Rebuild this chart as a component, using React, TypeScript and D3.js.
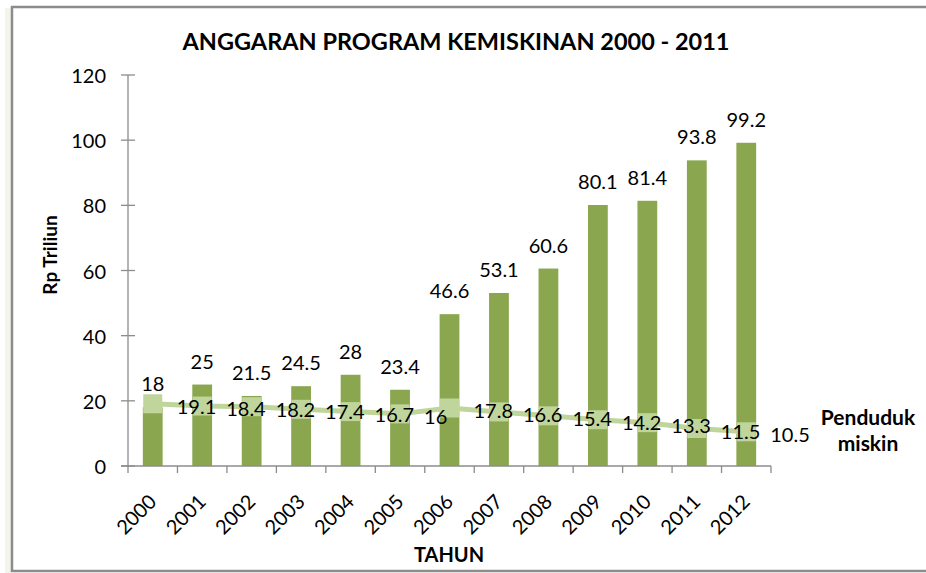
import React from "react";
import * as d3 from "d3";

const years = ["2000","2001","2002","2003","2004","2005","2006","2007","2008","2009","2010","2011","2012"];
const budget = [18, 25, 21.5, 24.5, 28, 23.4, 46.6, 53.1, 60.6, 80.1, 81.4, 93.8, 99.2];
const poor = [19.1, 18.4, 18.2, 17.4, 16.7, 16, 17.8, 16.6, 15.4, 14.2, 13.3, 11.5, 10.5];
const yTicks = [0, 20, 40, 60, 80, 100, 120];

const W = 926, H = 573;
const FONT = "Lato, 'Open Sans', sans-serif";

export default function App() {
  const x = d3.scaleBand<string>().domain(years).range([128, 771]).padding(0);
  const y = d3.scaleLinear().domain([0, 120]).range([466, 75]);
  const bw = x.bandwidth() * 0.4;
  const cx = (yr: string) => (x(yr) as number) + x.bandwidth() / 2;
  const line = d3.line<number>().x((_, i) => cx(years[i])).y((d) => y(d));
  const ms = 19;
  const barColor = "#8aa64f";
  const lightColor = "#bfd59c";
  const axisColor = "#8c8c8c";
  const fs = 20;

  return (
    <svg width={W} height={H} style={{ position: "absolute", left: 0, top: 0, background: "#fff" }} fontFamily={FONT}>
      <rect x={0} y={0} width={W} height={H} fill="#fff" />
      <rect x={5} y={8} width={6} height={H} fill="#f2f5ea" />
      <rect x={12} y={7} width={W + 10} height={564} fill="none" stroke={axisColor} strokeWidth={2.5} />
      <text x={456} y={50} textAnchor="middle" fontWeight="bold" fontSize={23} textLength={547} lengthAdjust="spacingAndGlyphs">
        ANGGARAN PROGRAM KEMISKINAN 2000 - 2011
      </text>
      {/* bars */}
      {budget.map((v, i) => (
        <rect key={"b" + i} x={cx(years[i]) - bw / 2} y={y(v)} width={bw} height={y(0) - y(v)} fill={barColor} />
      ))}
      {/* line */}
      <path d={line(poor) || ""} fill="none" stroke={lightColor} strokeWidth={5} />
      {poor.map((v, i) => (
        <rect key={"m" + i} x={cx(years[i]) - ms / 2} y={y(v) - ms / 2} width={ms} height={ms} fill={lightColor} />
      ))}
      {/* axes */}
      <line x1={128} x2={128} y1={y(120)} y2={y(0)} stroke={axisColor} strokeWidth={1.3} />
      <line x1={121} x2={771} y1={y(0)} y2={y(0)} stroke={axisColor} strokeWidth={1.3} />
      {yTicks.map((t) => (
        <g key={"yt" + t}>
          <line x1={121} x2={135} y1={y(t)} y2={y(t)} stroke={axisColor} strokeWidth={1.3} />
          <text x={106} y={y(t)} textAnchor="end" dominantBaseline="central" fontSize={fs}>{t}</text>
        </g>
      ))}
      {d3.range(years.length + 1).map((i) => {
        const xx = 128 + i * x.bandwidth();
        return <line key={"xt" + i} x1={xx} x2={xx} y1={y(0)} y2={y(0) + 7} stroke={axisColor} strokeWidth={1.3} />;
      })}
      {years.map((yr) => (
        <text key={"xl" + yr} transform={`translate(${cx(yr) + 5},${503}) rotate(-45)`} textAnchor="end" fontSize={fs}>{yr}</text>
      ))}
      {/* bar labels */}
      {budget.map((v, i) => (
        <text key={"bl" + i} x={cx(years[i])} y={y(v) - 16} textAnchor="middle" fontSize={fs}>{v}</text>
      ))}
      {/* line labels */}
      {poor.map((v, i) => (
        <text key={"ll" + i} x={cx(years[i]) + 24} y={y(v) + 2} dominantBaseline="central" fontSize={fs}>{v}</text>
      ))}
      <text transform={`translate(57,255) rotate(-90)`} textAnchor="middle" fontWeight="bold" fontSize={19}>Rp Triliun</text>
      <text x={449} y={562} textAnchor="middle" fontWeight="bold" fontSize={20}>TAHUN</text>
      <text x={868} y={425} textAnchor="middle" fontWeight="bold" fontSize={21}>Penduduk</text>
      <text x={868} y={451} textAnchor="middle" fontWeight="bold" fontSize={21}>miskin</text>
    </svg>
  );
}
